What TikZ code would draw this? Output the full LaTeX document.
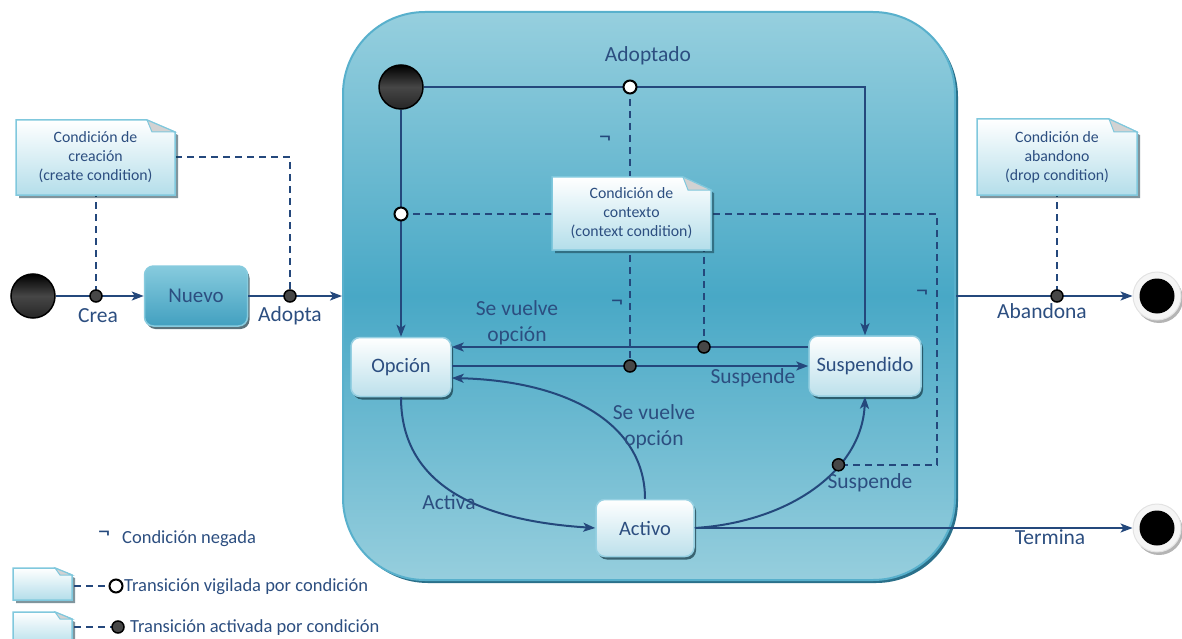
\documentclass[tikz,border=0pt]{standalone}
\usepackage{fontspec}
\setmainfont{Carlito}
\usetikzlibrary{arrows.meta,shadows,calc}

\definecolor{navy}{RGB}{36,72,124}
\definecolor{txt}{RGB}{44,78,128}
\definecolor{boxtop}{RGB}{150,207,222}
\definecolor{boxmid}{RGB}{72,168,198}
\definecolor{boxbot}{RGB}{150,206,221}
\definecolor{boxedge}{RGB}{88,176,204}
\definecolor{boxshade}{RGB}{42,112,138}
\definecolor{notebot}{RGB}{180,222,234}
\definecolor{noteedge}{RGB}{128,200,221}
\definecolor{stbot}{RGB}{188,224,235}
\definecolor{stedge}{RGB}{150,208,226}
\definecolor{nuevotop}{RGB}{135,203,222}
\definecolor{nuevobot}{RGB}{66,160,192}

% paper-like condition note: x1,y1,x2,y2, fold width, fold height, name, text
\newcommand\condnote[8]{%
  \fill[fill=black!45!boxshade, opacity=.55]
    (#1+3,#2+3) -- (#3+3-#5,#2+3) -- (#3+3,#2+3+#6) -- (#3+3,#4+3) -- (#1+3,#4+3) -- cycle;
  \draw[draw=noteedge, line width=1.5pt, top color=white, bottom color=notebot]
    (#1,#2) -- (#3-#5,#2) -- (#3,#2+#6) -- (#3,#4) -- (#1,#4) -- cycle;
  \filldraw[fill=gray!35, draw=noteedge, line width=1pt]
    (#3-#5,#2) -- (#3-#5+5,#2+#6) -- (#3,#2+#6) -- cycle;
  \node[notetext, minimum width=#3-#1, minimum height=#4-#2] (#7)
    at ({(#1+#3)/2},{(#2+#4)/2}) {#8};
}

\begin{document}
\begin{tikzpicture}[x=1pt,y=-1pt,
  tr/.style={draw=navy, line width=2pt, -{Stealth[length=12pt,width=9pt,inset=3pt]}},
  ln/.style={draw=navy, line width=2pt},
  dsh/.style={draw=navy, line width=1.6pt, dash pattern=on 7pt off 5pt},
  lbl/.style={text=txt, font=\fontsize{21.5}{26}\selectfont, align=center, inner sep=0},
  legtext/.style={text=txt, font=\fontsize{18.5}{22}\selectfont, anchor=west, inner sep=0},
  neg/.style={text=navy, font=\fontsize{24}{24}\selectfont, inner sep=0},
  notetext/.style={text=txt, font=\fontsize{15.8}{19}\selectfont, align=center, inner sep=0},
  statebox/.style={rectangle, rounded corners=9pt, draw=stedge, line width=1.5pt,
    top color=white, bottom color=stbot, text=txt, font=\fontsize{20.5}{22}\selectfont,
    drop shadow={shadow xshift=2pt, shadow yshift=-3pt, fill=black!50!boxshade, opacity=.7}},
  startst/.style={circle, inner sep=0, minimum size=44, draw=black, line width=1.5pt,
    top color=black, bottom color=black!85, middle color=gray!55!black},
  endst/.style={circle, inner sep=0, minimum size=48, fill=gray!8, draw=gray!22, line width=1pt,
    drop shadow={shadow xshift=2pt, shadow yshift=-3pt, fill=gray!65, opacity=.9}},
  dotf/.style={circle, inner sep=0, minimum size=12, draw=black, line width=1.5pt, fill=black!72},
  doto/.style={circle, inner sep=0, minimum size=13, draw=black, line width=2pt, fill=white},
]
\useasboundingbox (0,0) rectangle (1182,639);
\clip (0,0) rectangle (1182,639);

% composite state
\fill[boxshade, rounded corners=82pt] (346,15) rectangle (958,583);
\node[rectangle, rounded corners=82pt, draw=boxedge, line width=2pt,
  minimum width=612, minimum height=568, inner sep=0,
  top color=boxtop, bottom color=boxbot, middle color=boxmid] (box) at (649,296) {};

% states
\node[startst] (ini) at (33,296) {};
\node[statebox, draw=nuevotop, top color=nuevotop, bottom color=nuevobot,
  font=\fontsize{21}{22}\selectfont,
  minimum width=103, minimum height=60] (nuevo) at (196,296) {Nuevo};
\node[startst] (ini2) at (401,87) {};
\node[statebox, minimum width=100, minimum height=59] (opcion) at (401,367) {Opción};
\node[statebox, minimum width=112, minimum height=60] (susp) at (865,366) {Suspendido};
\node[statebox, minimum width=98, minimum height=57] (activo) at (645,528) {Activo};
\node[endst] (fin1) at (1157,296) {};
\node[circle, fill=black, inner sep=0, minimum size=35] at (fin1) {};
\node[endst] (fin2) at (1157,528) {};
\node[circle, fill=black, inner sep=0, minimum size=35] at (fin2) {};

% anchor points of guarded / triggered transitions
\coordinate (c1) at (96,296);
\coordinate (c2) at (290,296);
\coordinate (o1) at (630,87);
\coordinate (o2) at (401,214);
\coordinate (c3) at (630,366);
\coordinate (c4) at (704,347);
\coordinate (c6) at (1057,296);
\coordinate (rc) at (937,214);

% transitions
\draw[tr] (ini) -- (nuevo);
\draw[tr] (nuevo) -- (nuevo -| box.west);
\draw[tr] (ini2.east) -| (susp.north);
\draw[tr] (ini2) -- (opcion);
\draw[tr] ([yshift=19pt]susp.west) -- ([yshift=19pt]susp.west -| opcion.east);
\draw[tr] (opcion.east |- susp.west) -- (susp.west);
\draw[tr] (opcion.south) .. controls (401,480) and (470,520) .. (activo.west);
\draw[tr] (activo.north) .. controls (645,425) and (570,381) .. ([yshift=-11pt]opcion.east);
\draw[tr] (activo.east) .. controls (790,522) and (862,470) .. (susp.south)
  node[pos=0.65, coordinate] (c5) {};
\draw[tr] (activo.east) -- (fin2);
\draw[tr] (box.east |- fin1) -- (fin1);

% condition links
\draw[dsh] (o2) -- (rc) |- (c5);
\draw[dsh] (o1) -- (c3);
\draw[dsh] (96,190) -- (c1);
\draw[dsh] (175,157) -| (c2);
\draw[dsh] (1057,190) -- (c6);
\draw[dsh] (704,245) -- (c4);

% condition notes
\condnote{16}{120}{175}{195}{28}{12}{cnote}{Condición de\\creación\\(create condition)}
\condnote{552}{177}{711}{250}{28}{13}{xnote}{Condición de\\contexto\\(context condition)}
\condnote{977}{119}{1137}{195}{28}{13}{dnote}{Condición de\\abandono\\(drop condition)}

% guard and trigger markers
\node[dotf] at (c1) {};
\node[dotf] at (c2) {};
\node[dotf] at (c3) {};
\node[dotf] at (c4) {};
\node[dotf] at (c5) {};
\node[dotf] at (c6) {};
\node[doto] at (o1) {};
\node[doto] at (o2) {};

% negation marks
\node[neg] at (605,140) {¬};
\node[neg] at (617,304) {¬};
\node[neg] at (922,294) {¬};

% transition labels
\node[lbl] at (98,316) {Crea};
\node[lbl] at (290,316) {Adopta};
\node[lbl] at (648,56) {Adoptado};
\node[lbl] at (517,323) {Se vuelve\\opción};
\node[lbl] at (753,378) {Suspende};
\node[lbl] at (654,427) {Se vuelve\\opción};
\node[lbl] at (449,502) {Activa};
\node[lbl] at (870,483) {Suspende};
\node[lbl] at (1042,311) {Abandona};
\node[lbl] at (1050,537) {Termina};

% legend
\node[neg] at (104,535) {¬};
\node[legtext] at (122,539) {Condición negada};
\condnote{13}{568}{72}{600}{17}{7}{lega}{}
\condnote{13}{612}{72}{646}{17}{7}{legb}{}
\coordinate (lo) at (116,586);
\coordinate (lc) at (118,627);
\draw[dsh] (74,586) -- (lo);
\draw[dsh] (74,627) -- (lc);
\node[doto] at (lo) {};
\node[dotf] at (lc) {};
\node[legtext] at (124,587) {Transición vigilada por condición};
\node[legtext] at (130,628) {Transición activada por condición};
\end{tikzpicture}
\end{document}
